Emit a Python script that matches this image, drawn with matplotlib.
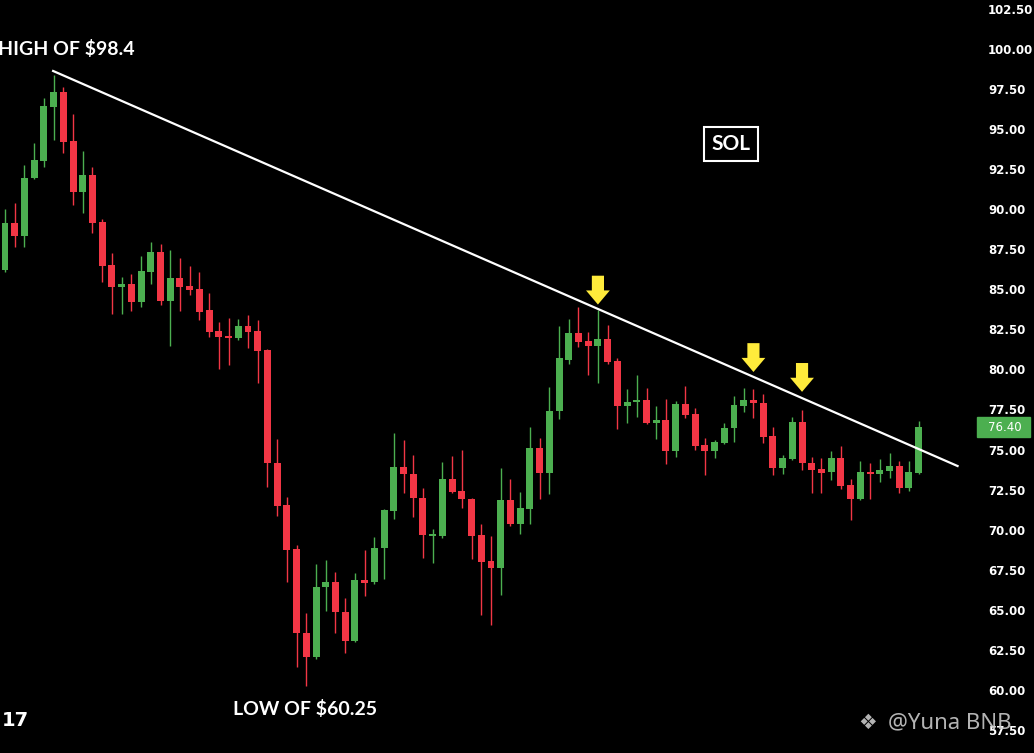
#!/usr/bin/env python

import numpy as np
from matplotlib import pyplot as plt
from matplotlib import patches, transforms

# daily SOL candles
opens = [86.21, 89.14, 88.33, 91.95, 93.01, 96.38, 97.32, 94.26, 91.08, 92.14,
         89.20, 86.52, 85.15, 85.33, 84.21, 86.08, 87.33, 84.27, 85.71, 85.21,
         85.02, 83.71, 82.40, 82.09, 81.96, 82.71, 82.40, 81.21, 74.16, 71.54,
         68.79, 63.55, 62.05, 66.42, 66.73, 64.86, 63.05, 66.86, 66.73, 68.85,
         71.16, 73.91, 73.47, 71.98, 69.60, 69.60, 73.16, 72.41, 71.91, 69.66,
         68.04, 67.61, 71.85, 70.35, 71.29, 75.10, 73.53, 77.41, 80.59, 82.27,
         81.77, 81.46, 81.90, 80.53, 77.72, 77.97, 78.09, 76.66, 76.84, 74.91,
         77.84, 77.22, 75.28, 74.91, 75.41, 76.34, 77.72, 78.09, 77.90, 75.84,
         73.85, 74.41, 76.72, 74.16, 73.78, 73.60, 74.47, 72.79, 71.91, 73.60,
         73.47, 73.66, 73.97, 72.60, 73.53]
highs = [90.01, 90.39, 92.76, 94.13, 96.94, 98.38, 97.63, 95.94, 93.63, 92.64,
         89.39, 87.27, 85.77, 85.96, 87.08, 87.95, 87.83, 87.45, 86.96, 86.46,
         86.08, 84.77, 82.96, 83.21, 83.15, 83.40, 83.09, 81.28, 75.66, 72.04,
         69.04, 64.80, 67.85, 68.10, 67.36, 65.73, 67.29, 68.73, 69.54, 71.30,
         76.03, 75.59, 74.66, 72.60, 70.04, 74.22, 74.60, 74.97, 71.98, 70.35,
         69.60, 73.85, 73.16, 72.35, 76.41, 75.72, 78.90, 82.71, 83.15, 83.90,
         82.34, 83.71, 82.77, 80.71, 78.78, 79.65, 78.84, 77.72, 78.15, 78.03,
         78.97, 77.59, 75.72, 75.59, 76.66, 78.34, 78.84, 78.78, 78.47, 76.41,
         74.66, 77.03, 77.47, 74.53, 74.47, 74.91, 75.22, 73.16, 74.28, 74.16,
         74.41, 74.78, 74.28, 74.28, 76.78]
lows = [86.08, 87.64, 87.64, 91.89, 92.64, 94.32, 93.51, 90.26, 89.76, 88.52,
        85.46, 83.46, 83.46, 83.65, 83.90, 85.33, 84.02, 81.46, 83.65, 84.65,
        83.09, 82.02, 80.03, 80.28, 81.84, 81.34, 79.15, 72.66, 70.85, 66.73,
        61.43, 60.25, 61.92, 64.92, 63.55, 62.30, 62.99, 65.86, 66.61, 66.92,
        70.66, 72.29, 70.79, 68.23, 67.92, 69.48, 72.29, 71.35, 68.17, 64.67,
        64.05, 65.92, 70.23, 69.73, 70.35, 71.91, 72.22, 76.91, 80.34, 81.40,
        79.65, 79.15, 80.34, 76.28, 76.66, 77.03, 76.60, 75.66, 74.10, 74.53,
        76.97, 74.97, 73.41, 74.47, 75.35, 75.47, 77.34, 76.97, 75.41, 73.41,
        73.47, 74.35, 73.72, 72.29, 72.29, 73.10, 72.54, 70.60, 71.85, 71.91,
        72.97, 73.22, 72.29, 72.41, 73.50]
closes = [89.14, 88.33, 91.95, 93.07, 96.44, 97.32, 94.20, 91.08, 92.14, 89.14,
          86.46, 85.15, 85.33, 84.21, 86.14, 87.33, 84.27, 85.71, 85.15, 84.96,
          83.58, 82.34, 82.02, 81.96, 82.71, 82.34, 81.15, 74.16, 71.48, 68.73,
          63.55, 62.05, 66.42, 66.73, 64.86, 63.05, 66.86, 66.67, 68.85, 71.23,
          73.91, 73.47, 71.98, 69.66, 69.66, 73.16, 72.35, 71.91, 69.60, 67.98,
          67.61, 71.85, 70.35, 71.35, 75.10, 73.53, 77.41, 80.71, 82.27, 81.71,
          81.46, 81.90, 80.46, 77.72, 77.97, 78.09, 76.66, 76.84, 74.91, 77.84,
          77.16, 75.22, 74.91, 75.47, 76.34, 77.78, 78.09, 77.90, 75.78, 73.85,
          74.47, 76.72, 74.16, 73.72, 73.53, 74.47, 72.72, 71.91, 73.60, 73.47,
          73.72, 73.97, 72.60, 73.60, 76.40]

# descending trendline (candle index, price) and the three rejection arrows
trend_x = [4.95, 98.0]
trend_y = [98.63, 73.97]
arrow_x = [61, 77, 82]
arrow_tip = [84.05, 79.84, 78.60]

price_ticks = np.arange(57.5, 102.51, 2.5)
last_price = 76.40

GREEN = "#4caf50"
RED = "#f23645"
YELLOW = "#ffeb3b"
W, H = 1034, 753


def draw_candles(ax, o, h, l, c, width=0.72):
    o, h, l, c = map(np.asarray, (o, h, l, c))
    x = np.arange(len(o))
    colors = np.where(c >= o, GREEN, RED)
    ax.vlines(x, l, h, colors=colors, linewidth=1.0, zorder=2)
    bottom = np.minimum(o, c)
    height = np.maximum(np.abs(c - o), 0.12)
    ax.bar(x, height, width=width, bottom=bottom, color=colors, linewidth=0, zorder=3)


def draw_arrow(ax, x, tip):
    # yellow block arrow pointing down at the trendline
    ax.add_patch(patches.FancyArrow(
        x, tip + 1.8, 0, -1.8, width=1.25, head_width=2.45, head_length=0.88,
        length_includes_head=True, color=YELLOW, linewidth=0, zorder=5))


def main():
    fig = plt.figure(figsize=(W / 100, H / 100), dpi=100, facecolor="black")
    ax = fig.add_axes([0, 0, 968 / W, 1])
    ax.set_facecolor("black")

    draw_candles(ax, opens, highs, lows, closes)
    ax.plot(trend_x, trend_y, color="white", linewidth=1.6, zorder=4)
    for x, tip in zip(arrow_x, arrow_tip):
        draw_arrow(ax, x, tip)

    ax.set_xlim((0 - 5) / 9.72, (968 - 5) / 9.72)
    ax.set_ylim(103.06 - H / 16.02, 103.06)
    for s in ax.spines.values():
        s.set_visible(False)
    ax.set_xticks([])
    ax.yaxis.tick_right()
    ax.set_yticks(price_ticks, [f"{v:.2f}" for v in price_ticks])
    ax.tick_params(axis="y", length=0, pad=14.5, labelsize=8.5, labelcolor="white")
    for t in ax.get_yticklabels():
        t.set_fontweight("bold")

    # last price tag on the scale
    blend = transforms.blended_transform_factory(fig.transFigure, ax.transData)
    ax.add_patch(patches.Rectangle((977 / W, last_price - 0.6), 53 / W, 1.2,
                                   transform=blend, color=GREEN, clip_on=False, zorder=6))
    ax.text(988 / W, last_price, f"{last_price:.2f}", transform=blend, color="white",
            fontsize=8.5, ha="left", va="center", zorder=7, clip_on=False)

    fig.text(-2 / W, 1 - 55 / H, "HIGH OF $98.4", color="white", fontsize=14,
             fontweight="bold", family="Lato", ha="left", va="baseline")
    fig.text(305 / W, 1 - 715 / H, "LOW OF $60.25", color="white", fontsize=14,
             fontweight="bold", family="Lato", ha="center", va="baseline")
    fig.text(731 / W, 1 - 144 / H, "SOL", color="white", fontsize=15,
             fontweight="bold", family="Lato", ha="center", va="center",
             bbox=dict(boxstyle="square,pad=0.35", fc="black", ec="white", lw=1.5))
    fig.text(2 / W, 1 - 726 / H, "17", color="white", fontsize=14,
             fontweight="bold", ha="left", va="baseline")

    fig.text(868 / W, 1 - 723 / H, "\u2756", color="#c8c8c8", fontsize=15,
             family="DejaVu Sans", ha="center", va="center", alpha=0.9)
    fig.text(888 / W, 1 - 723 / H, "@Yuna BNB", color="#c8c8c8", fontsize=16,
             family="Noto Sans", ha="left", va="center", alpha=0.9)

    fig.savefig("out.png", dpi=100, facecolor="black")


if __name__ == "__main__":
    main()
